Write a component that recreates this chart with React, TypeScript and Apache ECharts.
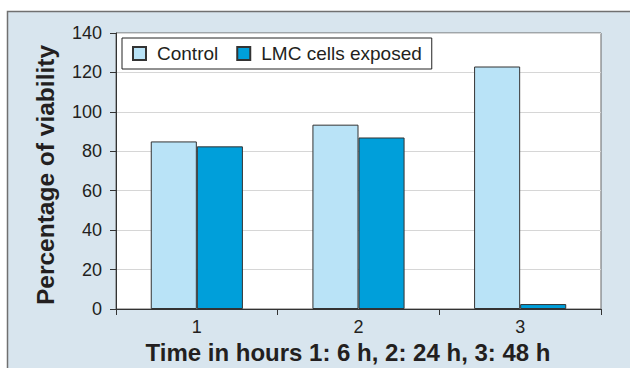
import React, { useEffect, useRef } from "react";
import * as echarts from "echarts";

const categories = ["1", "2", "3"];
const controlValues = [85, 93.5, 123];
const exposedValues = [82.5, 87, 2.5];
const seriesNames = ["Control", "LMC cells exposed"];
const yTitle = "Percentage of viability";
const xTitle = "Time in hours 1: 6 h, 2: 24 h, 3: 48 h";

const FONT = "'Liberation Sans', Arial, Helvetica, sans-serif";

export default function App() {
  const ref = useRef<HTMLDivElement>(null);
  useEffect(() => {
    if (!ref.current) return;
    const chart = echarts.init(ref.current, undefined, { renderer: "svg" });
    chart.setOption({
      animation: false,
      backgroundColor: "#ffffff",
      textStyle: { fontFamily: FONT },
      graphic: [
        {
          type: "rect",
          z: -100,
          silent: true,
          shape: { x: 7.5, y: 11.5, width: 700, height: 400 },
          style: { fill: "#d8e5ee", stroke: "#707070", lineWidth: 1.5 },
        },
        {
          type: "text",
          x: 348,
          y: 352,
          style: {
            text: xTitle,
            font: `bold 24px ${FONT}`,
            fill: "#231f20",
            textAlign: "center",
            textVerticalAlign: "middle",
          },
        },
        {
          type: "text",
          x: 45,
          y: 175,
          rotation: Math.PI / 2,
          style: {
            text: yTitle,
            font: `bold 24.5px ${FONT}`,
            fill: "#231f20",
            textAlign: "center",
            textVerticalAlign: "middle",
          },
        },
      ],
      grid: {
        left: 116,
        right: 29,
        top: 33,
        bottom: 59,
        show: true,
        backgroundColor: "#ffffff",
        borderColor: "#666666",
        borderWidth: 1,
      },
      legend: {
        left: 122,
        top: 38,
        backgroundColor: "#ffffff",
        borderColor: "#222222",
        borderWidth: 1,
        borderRadius: 0,
        padding: [6, 10, 6, 10],
        itemGap: 18,
        itemWidth: 13,
        itemHeight: 13,
        icon: "rect",
        textStyle: { fontSize: 19, color: "#231f20", fontFamily: FONT, padding: [0, 0, 0, 6] },
        data: seriesNames,
      },
      xAxis: {
        type: "category",
        data: categories,
        axisLine: { lineStyle: { color: "#333333", width: 1 } },
        axisTick: { show: true, length: 6, lineStyle: { color: "#333333" } },
        axisLabel: { fontSize: 18, color: "#231f20", margin: 9, fontFamily: FONT },
        splitLine: { show: false },
      },
      yAxis: {
        type: "value",
        min: 0,
        max: 140,
        interval: 20,
        axisLine: { show: true, lineStyle: { color: "#333333", width: 1 } },
        axisTick: { show: true, length: 6, lineStyle: { color: "#333333" } },
        axisLabel: { fontSize: 18, color: "#231f20", margin: 14, fontFamily: FONT },
        splitLine: { show: true, lineStyle: { color: "#d6d6d6", width: 1 } },
      },
      series: [
        {
          name: seriesNames[0],
          type: "bar",
          data: controlValues,
          barGap: "0%",
          barCategoryGap: "43%",
          itemStyle: { color: "#b9e3f7", borderColor: "#333333", borderWidth: 1 },
        },
        {
          name: seriesNames[1],
          type: "bar",
          data: exposedValues,
          barGap: "0%",
          barCategoryGap: "43%",
          itemStyle: { color: "#009fda", borderColor: "#333333", borderWidth: 1 },
        },
      ],
    });
    return () => chart.dispose();
  }, []);
  return (
    <div
      ref={ref}
      style={{ position: "fixed", left: 0, top: 0, width: 630, height: 368 }}
    />
  );
}
